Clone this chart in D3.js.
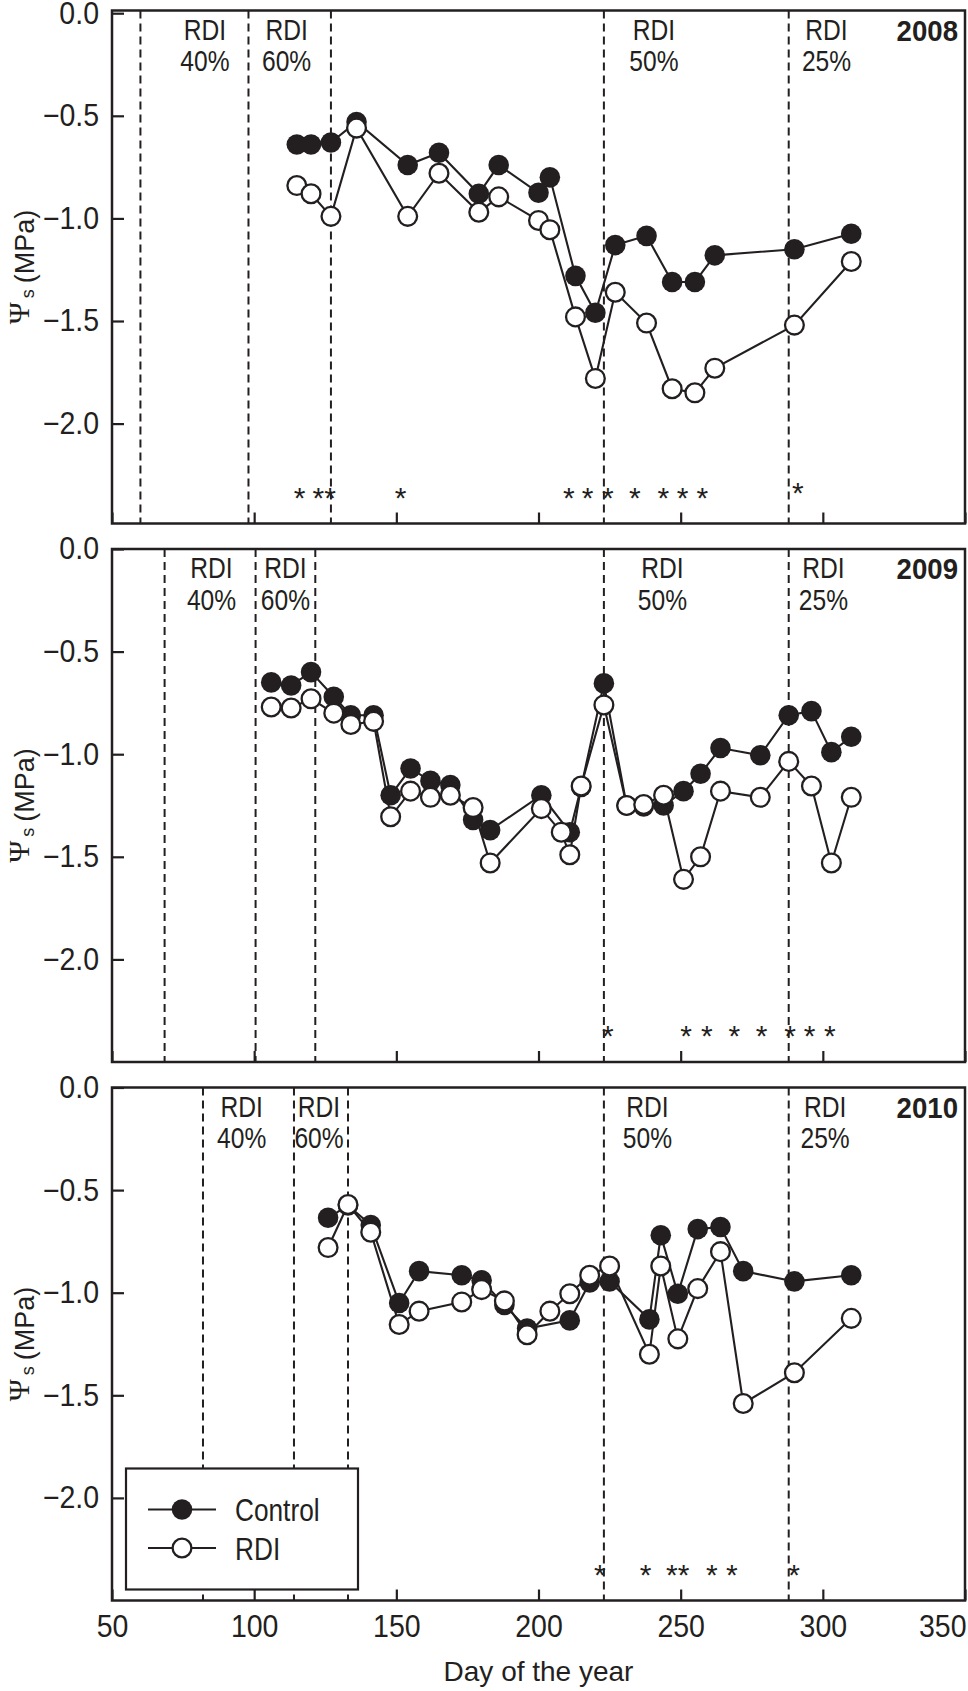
<!DOCTYPE html>
<html>
<head>
<meta charset="utf-8">
<script src="https://cdn.jsdelivr.net/npm/d3@7"></script>
<style>
  html, body { margin: 0; padding: 0; background: #fff; }
  svg { display: block; }
</style>
</head>
<body>
<div id="chart"></div>
<script>
'use strict';

// ---- data (day of year, stem water potential in MPa) ----
var years = ['2008', '2009', '2010'];

var controlDays2008 = [115, 120, 127, 136, 154, 165, 179, 186, 200, 204, 213, 220, 227, 238, 247, 255, 262, 290, 310];
var control2008     = [-0.64, -0.64, -0.63, -0.53, -0.74, -0.68, -0.88, -0.74, -0.875, -0.80, -1.28, -1.46, -1.13, -1.085, -1.31, -1.31, -1.18, -1.15, -1.075];
var rdiDays2008     = [115, 120, 127, 136, 154, 165, 179, 186, 200, 204, 213, 220, 227, 238, 247, 255, 262, 290, 310];
var rdi2008         = [-0.84, -0.88, -0.99, -0.56, -0.99, -0.78, -0.97, -0.895, -1.01, -1.055, -1.48, -1.78, -1.36, -1.51, -1.83, -1.85, -1.73, -1.52, -1.21];

var controlDays2009 = [106, 113, 120, 128, 134, 142, 148, 155, 162, 169, 177, 183, 201, 211, 215, 223, 231, 237, 244, 251, 257, 264, 278, 288, 296, 303, 310];
var control2009     = [-0.65, -0.665, -0.60, -0.72, -0.81, -0.81, -1.20, -1.07, -1.13, -1.15, -1.32, -1.37, -1.20, -1.38, -1.16, -0.655, -1.25, -1.255, -1.25, -1.18, -1.095, -0.97, -1.005, -0.81, -0.79, -0.99, -0.915];
var rdiDays2009     = [106, 113, 120, 128, 134, 142, 148, 155, 162, 169, 177, 183, 201, 208, 211, 215, 223, 231, 237, 244, 251, 257, 264, 278, 288, 296, 303, 310];
var rdi2009         = [-0.77, -0.775, -0.73, -0.80, -0.855, -0.84, -1.305, -1.18, -1.21, -1.20, -1.26, -1.53, -1.265, -1.38, -1.49, -1.155, -0.76, -1.25, -1.245, -1.20, -1.61, -1.50, -1.18, -1.21, -1.035, -1.155, -1.53, -1.21];

var controlDays2010 = [126, 133, 141, 151, 158, 173, 180, 188, 196, 211, 218, 225, 239, 243, 249, 256, 264, 272, 290, 310];
var control2010     = [-0.635, -0.575, -0.67, -1.05, -0.895, -0.915, -0.94, -1.06, -1.175, -1.135, -0.95, -0.945, -1.13, -0.72, -1.005, -0.69, -0.68, -0.895, -0.945, -0.915];
var rdiDays2010     = [126, 133, 141, 151, 158, 173, 180, 188, 196, 204, 211, 218, 225, 239, 243, 249, 256, 264, 272, 290, 310];
var rdi2010         = [-0.78, -0.57, -0.705, -1.155, -1.09, -1.045, -0.985, -1.04, -1.205, -1.09, -1.005, -0.915, -0.87, -1.30, -0.87, -1.225, -0.98, -0.80, -1.54, -1.39, -1.125];

// start of each irrigation period (dashed lines)
var periods2008 = [60, 98, 127, 223, 288];
var periods2009 = [68.5, 100.5, 121.5, 223, 288];
var periods2010 = [82, 114, 133, 223, 288];

var periodNames   = ['40%', '60%', '50%', '25%'];
var labelDays2008 = [82.7, 111.4, 240.6, 301.3];
var labelDays2009 = [85, 111, 243.6, 300.2];
var labelDays2010 = [95.6, 122.8, 238.3, 300.8];

// significant differences
var stars2008 = [116, 122.6, 126.7, 151.5, 210.7, 217.3, 224.4, 233.9, 243.9, 250.7, 257.6];
var starsHigh2008 = [291.2];
var stars2009 = [224.4, 251.9, 259.2, 268.9, 278.5, 288.5, 295.3, 302.5];
var starsHigh2009 = [];
var stars2010 = [221.6, 237.7, 246.9, 251, 261, 268, 289.9];
var starsHigh2010 = [];

var xTicks = [50, 100, 150, 200, 250, 300, 350];
var yTicks = [0, -0.5, -1.0, -1.5, -2.0];

var seriesNames = ['Control', 'RDI'];

// ---- layout ----
const width = 968, height = 1691;
const left = 112, right = 965;
const panelTop = 10.5, panelH = 513, panelStep = 538.5;
const scaleShift = [2.7, 0, 0];   // top panel's value scale sits a little lower in its frame
const ink = '#231f20';
const sans = "'Liberation Sans', Arial, Helvetica, sans-serif";
const serif = "'Liberation Serif', 'DejaVu Serif', serif";
const squeeze = 0.82;   // condensed look for the annotation font

function zip(a, b) { return a.map(function(d, i) { return [d, b[i]]; }); }

var panels = [
    { year: years[0], control: zip(controlDays2008, control2008), rdi: zip(rdiDays2008, rdi2008),
      periods: periods2008, labels: labelDays2008, stars: stars2008, starsHigh: starsHigh2008 },
    { year: years[1], control: zip(controlDays2009, control2009), rdi: zip(rdiDays2009, rdi2009),
      periods: periods2009, labels: labelDays2009, stars: stars2009, starsHigh: starsHigh2009 },
    { year: years[2], control: zip(controlDays2010, control2010), rdi: zip(rdiDays2010, rdi2010),
      periods: periods2010, labels: labelDays2010, stars: stars2010, starsHigh: starsHigh2010 }
];

var svg = d3.select('#chart').append('svg')
    .attr('width', width)
    .attr('height', height)
    .style('background', '#fff');

var x = d3.scaleLinear().domain([50, 350]).range([left, right]);

panels.forEach(function(p, i) {
    var top = panelTop + i * panelStep;
    var bottom = top + panelH;
    var s = scaleShift[i];
    var y = d3.scaleLinear().domain([-2.5, 0]).range([bottom + s, top + s]);
    var g = svg.append('g').attr('class', 'panel');

    // dashed period lines
    g.selectAll('.period').data(p.periods).enter().append('line')
        .attr('x1', function(d) { return x(d); })
        .attr('x2', function(d) { return x(d); })
        .attr('y1', top).attr('y2', bottom)
        .attr('stroke', ink).attr('stroke-width', 2)
        .attr('stroke-dasharray', '8,5');

    // period labels
    var lab = g.selectAll('.plabel').data(p.labels).enter().append('g')
        .attr('transform', function(d) { return 'translate(' + x(d) + ',' + top + ') scale(' + squeeze + ',1)'; })
        .style('font-family', sans).style('font-size', '30px').attr('fill', ink)
        .attr('text-anchor', 'middle');
    lab.append('text').attr('y', 29.5).text('RDI');
    lab.append('text').attr('y', 61).text(function(d, j) { return periodNames[j]; });

    // year
    g.append('text')
        .attr('transform', 'translate(958,' + (top + 30) + ') scale(0.92,1)')
        .attr('text-anchor', 'end')
        .style('font-family', sans).style('font-size', '30px').style('font-weight', 'bold')
        .attr('fill', ink)
        .text(p.year);

    // asterisks
    g.selectAll('.star').data(p.stars).enter().append('text')
        .attr('x', function(d) { return x(d); })
        .attr('y', top + 497)
        .attr('text-anchor', 'middle')
        .style('font-family', sans).style('font-size', '30px').attr('fill', ink)
        .text('*');
    g.selectAll('.starh').data(p.starsHigh).enter().append('text')
        .attr('x', function(d) { return x(d); })
        .attr('y', top + 492)
        .attr('text-anchor', 'middle')
        .style('font-family', sans).style('font-size', '30px').attr('fill', ink)
        .text('*');

    // series
    var line = d3.line()
        .x(function(d) { return x(d[0]); })
        .y(function(d) { return y(d[1]); });

    g.append('path').datum(p.control)
        .attr('d', line).attr('fill', 'none')
        .attr('stroke', ink).attr('stroke-width', 2.1);
    g.selectAll('.ctl').data(p.control).enter().append('circle')
        .attr('cx', function(d) { return x(d[0]); })
        .attr('cy', function(d) { return y(d[1]); })
        .attr('r', 10.3)
        .attr('fill', ink);

    g.append('path').datum(p.rdi)
        .attr('d', line).attr('fill', 'none')
        .attr('stroke', ink).attr('stroke-width', 2.1);
    g.selectAll('.rdi').data(p.rdi).enter().append('circle')
        .attr('cx', function(d) { return x(d[0]); })
        .attr('cy', function(d) { return y(d[1]); })
        .attr('r', 9.4)
        .attr('fill', '#fff')
        .attr('stroke', ink).attr('stroke-width', 2.3);

    // axes
    var last = i === panels.length - 1;
    var yAxis = g.append('g')
        .attr('transform', 'translate(' + left + ',0)')
        .call(d3.axisLeft(y).tickValues(yTicks).tickSize(-12).tickPadding(13).tickFormat(d3.format('.1f')));
    var xAxis = g.append('g')
        .attr('transform', 'translate(0,' + bottom + ')')
        .call(d3.axisBottom(x).tickValues(xTicks).tickSize(-11).tickPadding(14)
            .tickFormat(last ? d3.format('d') : function() { return ''; }));
    [yAxis, xAxis].forEach(function(a) {
        a.select('.domain').remove();
        a.selectAll('line').attr('stroke', ink).attr('stroke-width', 2.2);
        a.selectAll('text').style('font-family', sans).style('font-size', '31px').attr('fill', ink)
            .attr('transform', function() {
                var tx = +d3.select(this).attr('x') || 0;
                d3.select(this).attr('x', 0);
                return 'translate(' + tx + ',0) scale(0.92,1)';
            });
    });
    // the last x label sits inside the page edge
    xAxis.selectAll('.tick').filter(function(d) { return d === 350; })
        .select('text').attr('text-anchor', 'end').attr('transform', 'translate(1,0) scale(0.92,1)');

    // frame
    g.append('rect')
        .attr('x', left).attr('y', top)
        .attr('width', right - left).attr('height', panelH)
        .attr('fill', 'none').attr('stroke', ink).attr('stroke-width', 2.5);

    // y title
    var yt = g.append('text')
        .attr('transform', 'translate(34,' + (top + panelH / 2) + ') rotate(-90)')
        .attr('text-anchor', 'middle')
        .attr('fill', ink)
        .style('font-family', sans).style('font-size', '27px');
    yt.append('tspan').style('font-family', serif).style('font-size', '30px').attr('dy', -5).text('Ψ');
    yt.append('tspan').style('font-size', '18px').attr('dx', 4).attr('dy', 5).text('s');
    yt.append('tspan').attr('dx', 6).text('(MPa)');

    // legend in last panel
    if (last) {
        var lg = g.append('g').attr('transform', 'translate(126,' + (top + 381) + ')');
        lg.append('rect')
            .attr('width', 232).attr('height', 121)
            .attr('fill', '#fff').attr('stroke', ink).attr('stroke-width', 2.2);
        var rows = lg.selectAll('.row').data(seriesNames).enter().append('g')
            .attr('transform', function(d, j) { return 'translate(0,' + (41 + j * 38.5) + ')'; });
        rows.append('line')
            .attr('x1', 22).attr('x2', 90)
            .attr('stroke', ink).attr('stroke-width', 2.1);
        rows.append('circle')
            .attr('cx', 56).attr('r', function(d, j) { return j === 0 ? 10.3 : 9.4; })
            .attr('fill', function(d, j) { return j === 0 ? ink : '#fff'; })
            .attr('stroke', ink).attr('stroke-width', function(d, j) { return j === 0 ? 0 : 2.3; });
        rows.append('text')
            .attr('transform', 'translate(109,11.5) scale(' + squeeze + ',1)')
            .style('font-family', sans).style('font-size', '32px').attr('fill', ink)
            .text(function(d) { return d; });
    }
});

// x title
svg.append('text')
    .attr('x', (left + right) / 2).attr('y', 1681)
    .attr('text-anchor', 'middle')
    .style('font-family', sans).style('font-size', '28px').attr('fill', ink)
    .text('Day of the year');
</script>
</body>
</html>
